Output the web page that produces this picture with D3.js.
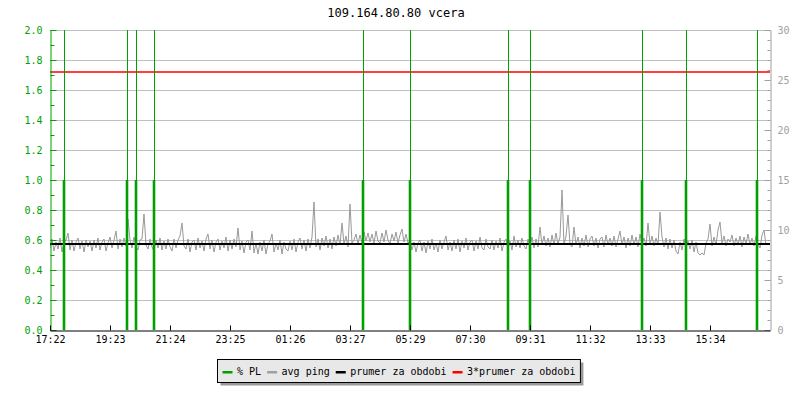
<!DOCTYPE html>
<html><head><meta charset="utf-8">
<script src="https://cdn.jsdelivr.net/npm/d3@7"></script>
<style>
body{margin:0;background:#fff;}
svg{display:block;font-family:"DejaVu Sans Mono",monospace;}
</style></head><body>
<svg id="c" width="800" height="400"></svg>
<script>
// ---------------- data ----------------
const chartTitle = "109.164.80.80 vcera";
const startTime = "2024-05-13 17:22";
const spanMinutes = 1454;
const xTickLabels = ["17:22","19:23","21:24","23:25","01:26","03:27","05:29","07:30","09:31","11:32","13:33","15:34"];
const leftTicks = [0.0,0.2,0.4,0.6,0.8,1.0,1.2,1.4,1.6,1.8,2.0];
const rightTicks = [0,5,10,15,20,25,30];

// avg ping (ms), one sample every ~4 minutes
const pingValues = [
8.2,9.1,7.9,8.8,8.1,9.2,7.8,8.7,9.0,9.7,8.0,9.0,7.9,8.8,9.2,8.1,8.9,7.8,9.0,8.3,
8.9,7.9,9.0,8.2,9.2,8.0,8.8,9.1,7.9,8.7,9.3,8.2,9.0,9.9,8.1,9.1,8.3,9.2,8.4,11.1,
9.0,8.2,9.3,8.3,8.0,9.0,9.1,11.6,8.5,8.1,9.1,8.3,7.9,9.0,8.2,9.2,8.0,8.9,8.1,9.1,
8.3,7.9,9.1,8.2,9.0,9.4,10.7,8.4,8.1,9.1,7.8,8.8,9.0,8.0,9.2,8.2,8.9,7.9,9.1,9.6,
8.1,9.0,7.8,8.8,9.1,8.0,8.9,8.2,9.3,7.9,9.0,8.1,9.1,8.3,10.2,8.0,8.9,7.7,8.8,9.0,
8.0,9.9,7.7,8.7,7.6,8.8,7.9,9.0,7.6,8.6,8.9,9.6,7.8,8.7,8.0,9.0,7.6,8.8,8.1,7.9,
8.9,8.0,9.1,7.8,8.8,9.2,8.1,9.0,7.9,9.1,8.2,9.3,12.8,8.3,9.1,8.0,9.2,8.4,9.4,8.2,
9.1,8.1,9.3,8.4,9.5,8.5,10.7,8.6,9.4,8.3,12.6,8.7,9.0,9.6,8.6,9.5,8.7,9.8,8.9,9.7,
8.8,9.6,8.7,9.9,8.9,8.7,9.7,8.8,10.0,9.0,8.6,9.6,8.9,9.8,8.7,9.5,10.1,8.8,9.6,8.7,
8.9,8.0,8.8,7.8,8.7,9.0,7.9,8.8,7.7,8.9,8.1,9.1,8.0,8.7,7.8,9.0,8.1,8.8,9.4,8.0,
8.8,7.9,9.0,8.1,9.1,7.8,8.9,8.2,9.2,8.0,8.8,9.0,7.9,8.9,8.1,9.3,8.2,8.0,9.1,8.3,
8.1,9.0,8.0,8.9,8.2,9.2,7.9,8.8,9.1,8.1,8.9,8.0,9.4,8.3,9.0,8.2,9.2,8.4,8.1,9.1,
8.4,9.3,8.2,9.1,8.3,10.3,8.5,9.4,8.4,9.2,8.3,9.5,8.5,9.7,8.6,9.3,14.0,8.5,9.4,11.5,
8.6,8.3,10.3,8.5,9.3,8.2,9.2,8.4,9.5,8.3,9.1,9.4,8.4,9.2,8.2,9.1,9.3,8.3,9.5,8.5,
9.2,8.4,9.4,8.3,9.1,9.9,8.5,9.3,8.2,9.2,8.4,9.5,8.5,9.3,8.3,9.6,8.6,9.2,8.4,10.7,
8.6,9.4,8.4,9.2,8.5,11.8,9.3,8.3,9.2,8.1,9.1,8.2,9.0,7.9,7.6,8.8,8.0,9.1,8.2,8.9,
8.1,9.0,7.8,8.8,7.7,7.5,7.7,7.5,8.7,9.1,10.6,8.4,9.3,8.5,10.0,10.8,8.7,9.4,8.4,9.1,
8.8,9.5,8.4,9.2,8.5,9.4,8.3,9.3,8.6,9.6,8.5,9.2,8.4,9.4,8.6,8.2,9.5,10.0,8.5
];
const pingSamples = 360;

// packet loss events (%)
const plTimes = ["2024-05-13 17:51","2024-05-13 19:58","2024-05-13 20:16","2024-05-13 20:53",
                 "2024-05-14 03:54","2024-05-14 05:28","2024-05-14 08:46","2024-05-14 09:31",
                 "2024-05-14 13:17","2024-05-14 14:46","2024-05-14 17:10"];
const plValues = [1,1,1,1,1,1,1,1,1,1,1];
const plPeaks  = [3,3,3,3,3,3,3,3,3,3,3];

const meanPing = 8.6;
const legendLabels = ["% PL","avg ping","prumer za obdobi","3*prumer za obdobi"];
const legendColors = ["#00a000","#a0a0a0","#000000","#ff0000"];

// ---------------- drawing ----------------
const svg = d3.select("#c");
const M = {l:50, r:770, t:30, b:330};
const parse = d3.timeParse("%Y-%m-%d %H:%M");
const t0 = parse(startTime);
const t1 = d3.timeMinute.offset(t0, spanMinutes);
const x = d3.scaleTime().domain([t0, t1]).range([M.l, M.r]);
const y = d3.scaleLinear().domain([0, 2]).range([M.b, M.t]);
const y2 = d3.scaleLinear().domain([0, 30]).range([M.b, M.t]);

const GREEN = "#00a000", GRAY = "#a0a0a0";

svg.append("defs").append("clipPath").attr("id","clip")
  .append("rect").attr("x",M.l).attr("y",M.t).attr("width",M.r-M.l).attr("height",M.b-M.t);

// title
svg.append("text").attr("x",396).attr("y",17).attr("text-anchor","middle")
  .attr("font-size",12).attr("fill","#000").text(chartTitle);

// grid
svg.append("g").selectAll("line").data(leftTicks.filter(d=>d>0)).join("line")
  .attr("x1",M.l).attr("x2",M.r).attr("y1",d=>Math.round(y(d))+0.5).attr("y2",d=>Math.round(y(d))+0.5)
  .attr("stroke","#c0c0c0").attr("stroke-width",1);

const plot = svg.append("g").attr("clip-path","url(#clip)");

// ping line
const stepMin = spanMinutes / pingSamples;
const pingData = pingValues.map((v,i)=>({t:new Date(t0.getTime() + i*stepMin*60000), v}));
const line = d3.line()
  .x(d => x(d.t))
  .y(d => y2(d.v));
plot.append("path").datum(pingData).attr("d",line)
  .attr("fill","none").attr("stroke","#999999").attr("stroke-width",1);

// mean line and 3*mean
plot.append("line").attr("x1",M.l).attr("x2",M.r).attr("y1",y2(meanPing)).attr("y2",y2(meanPing))
  .attr("stroke","#000").attr("stroke-width",2);
plot.append("line").attr("x1",M.l).attr("x2",M.r).attr("y1",y2(3*meanPing)).attr("y2",y2(3*meanPing))
  .attr("stroke","#ff0000").attr("stroke-width",1.5);

// PL
const pl = plTimes.map((t,i)=>({t:parse(t), v:plValues[i], p:plPeaks[i]}));
plot.append("g").selectAll("line").data(pl).join("line")
  .attr("x1",d=>Math.round(x(d.t))+0.5).attr("x2",d=>Math.round(x(d.t))+0.5)
  .attr("y1",y(0)).attr("y2",d=>y(Math.min(d.p,2)))
  .attr("stroke",GREEN).attr("stroke-width",1);
plot.append("g").selectAll("line").data(pl).join("line")
  .attr("x1",d=>Math.round(x(d.t))).attr("x2",d=>Math.round(x(d.t)))
  .attr("y1",y(0)).attr("y2",d=>y(d.v))
  .attr("stroke",GREEN).attr("stroke-width",2.6);

// left axis
const minorLeft = d3.range(0, 21).map(d=>d/10);
const gL = svg.append("g").attr("transform",`translate(${M.l+0.5},0)`);
gL.call(d3.axisLeft(y).tickValues(minorLeft).tickSize(-4).tickSizeOuter(0).tickFormat(""));
gL.call(g=>g.select(".domain").remove());
const gL2 = svg.append("g").attr("transform",`translate(${M.l+0.5},0)`);
gL2.call(d3.axisLeft(y).tickValues(leftTicks).tickSize(-6).tickSizeOuter(0).tickPadding(8).tickFormat(d3.format(".1f")));
[gL,gL2].forEach(g=>{
  g.selectAll("line").attr("stroke",GREEN);
  g.selectAll(".domain").attr("stroke",GREEN);
  g.selectAll("text").attr("fill",GREEN).attr("font-size",10).attr("font-family","DejaVu Sans Mono");
});

// right axis
const minorRight = d3.range(0, 31);
const gR = svg.append("g").attr("transform",`translate(${M.r+0.5},0)`);
gR.call(d3.axisRight(y2).tickValues(minorRight).tickSize(-3).tickSizeOuter(0).tickFormat(""));
gR.call(g=>g.select(".domain").remove());
const gR2 = svg.append("g").attr("transform",`translate(${M.r+0.5},0)`);
gR2.call(d3.axisRight(y2).tickValues(rightTicks).tickSize(-6).tickSizeOuter(0).tickPadding(7).tickFormat(d3.format("d")));
[gR,gR2].forEach(g=>{
  g.selectAll("line").attr("stroke",GRAY);
  g.selectAll(".domain").attr("stroke",GRAY);
  g.selectAll("text").attr("fill",GRAY).attr("font-size",10).attr("font-family","DejaVu Sans Mono");
});

// bottom axis
const xTicks = xTickLabels.map((_,i)=>new Date(t0.getTime() + i*spanMinutes/12*60000));
const gB = svg.append("g").attr("transform",`translate(0,${M.b+0.5})`);
gB.call(d3.axisBottom(x).tickValues(xTicks).tickSize(-5).tickSizeOuter(0).tickPadding(5)
  .tickFormat((d,i)=>xTickLabels[i]));
gB.selectAll("line").attr("stroke","#000");
gB.select(".domain").attr("stroke","#000");
gB.selectAll("text").attr("fill","#000").attr("font-size",10).attr("font-family","DejaVu Sans Mono");

// legend
const charW = 6.02;
const items = legendLabels.map((l,i)=>({l, c:legendColors[i]}));
let cx = 0;
items.forEach(d=>{ d.x = cx; cx += 14.5 + d.l.length*charW + 6; });
const innerW = cx - 6;
const boxW = innerW + 10;
const boxX = Math.round(398.5 - boxW/2) + 0.5, boxY = 359.5, boxH = 23;
const lg = svg.append("g");
lg.append("rect").attr("x",boxX+3).attr("y",boxY+3).attr("width",boxW).attr("height",boxH).attr("fill","#9a9a9a");
lg.append("rect").attr("x",boxX).attr("y",boxY).attr("width",boxW).attr("height",boxH)
  .attr("fill","#e8e8e8").attr("stroke","#000").attr("stroke-width",1);
const li = lg.selectAll("g.it").data(items).join("g").attr("class","it")
  .attr("transform",d=>`translate(${boxX+5+d.x},0)`);
li.append("rect").attr("x",0).attr("y",371).attr("width",10).attr("height",2.5).attr("fill",d=>d.c);
li.append("text").attr("x",14.5).attr("y",375).attr("font-size",10).attr("fill","#000").text(d=>d.l);
</script>
</body></html>
